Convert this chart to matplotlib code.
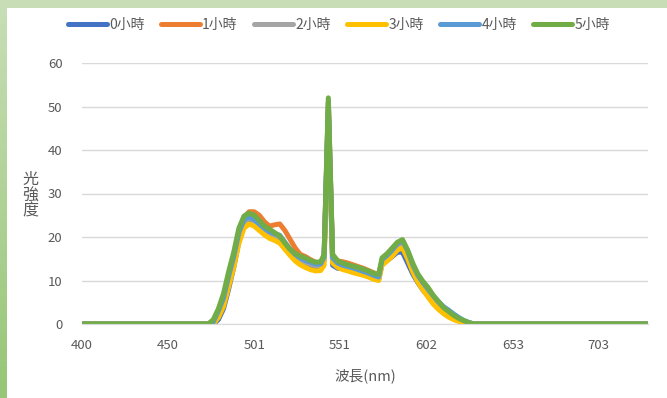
import matplotlib
matplotlib.use("Agg")
import matplotlib.pyplot as plt
import numpy as np
from matplotlib.lines import Line2D
from matplotlib.patches import Rectangle
from matplotlib.colors import LinearSegmentedColormap

plt.rcParams['font.family'] = ['Noto Sans CJK TC', 'DejaVu Sans']

# Wavelength grid (nm)
wavelength = [400, 474, 477, 480, 483, 486, 489, 492, 495, 498, 501, 504, 507, 510,
              513, 516, 519, 522, 525, 528, 531, 534, 537, 540, 542, 544.5, 547, 550,
              553, 556, 559, 562, 565, 568, 571, 574, 576, 579, 582, 585, 588, 591,
              594, 597, 600, 603, 606, 609, 612, 615, 618, 621, 624, 627, 630, 732]

series_labels = ['0小時', '1小時', '2小時', '3小時', '4小時', '5小時']
series_colors = ['#4472C4', '#ED7D31', '#A5A5A5', '#FFC000', '#5B9BD5', '#70AD47']

hour0 = [0, 0, 0, 1, 3.5, 8, 13, 19, 22.8, 24, 23.8, 22.8, 21.8, 20.5,
         20.2, 19.6, 18, 16.5, 15.2, 14.4, 13.9, 13.5, 13.1, 13.1, 14.6, 49, 13.5, 12.8,
         12.8, 12.6, 12.2, 11.9, 11.5, 11, 10.5, 10.2, 13.8, 14.6, 15.5, 16.5, 16.5, 14,
         11.5, 9.5, 7.8, 6.5, 5.2, 4, 3, 2.3, 1.7, 1.2, 0.7, 0.3, 0, 0]
hour1 = [0, 0, 0, 2, 5.5, 10.5, 15.5, 21, 24.5, 25.8, 25.8, 25, 23.5, 22.5,
         22.8, 23, 21.5, 19.5, 17.5, 16, 15.5, 14.8, 14.2, 14, 15.5, 51, 15.8, 14.5,
         14.3, 14, 13.6, 13.2, 12.8, 12.3, 11.8, 11.3, 14.5, 15.8, 17, 18.3, 19, 16.5,
         13.5, 11, 9.2, 7.8, 6, 4.8, 3.4, 2.4, 1.6, 1, 0.5, 0.2, 0, 0]
hour2 = [0, 0, 0.5, 2.5, 5.5, 10, 14.5, 20, 23.5, 24.3, 23.8, 22.8, 21.8, 20.8,
         20.3, 19.8, 18.2, 16.8, 15.6, 14.8, 14.2, 13.8, 13.4, 13.3, 15, 50, 15, 13.8,
         13.3, 12.9, 12.5, 12.2, 11.8, 11.3, 10.8, 10.5, 14, 15, 16.2, 17.8, 18.5, 16,
         13, 10.5, 8.8, 7.4, 5.8, 4.4, 3.2, 2.3, 1.5, 0.9, 0.5, 0.2, 0, 0]
hour3 = [0, 0, 0, 1.5, 4, 8.5, 13, 18.5, 22, 23, 22.5, 21.5, 20.5, 19.7,
         19.2, 18.6, 17.2, 15.8, 14.5, 13.6, 13, 12.5, 12.2, 12.3, 13.5, 48, 14, 13,
         12.5, 12.2, 11.8, 11.5, 11.2, 10.8, 10.3, 10, 13.5, 14.5, 15.6, 17, 17.5, 15,
         12, 9.6, 7.8, 6.2, 4.6, 3.4, 2.4, 1.6, 1, 0.6, 0.3, 0.1, 0, 0]
hour4 = [0, 0, 0.5, 3, 6, 11, 15.5, 21, 24, 24.6, 24, 23, 22, 21.2,
         20.8, 20.4, 18.8, 17.2, 16, 15.2, 14.6, 14.2, 13.8, 13.8, 15.4, 51, 15.2, 14,
         13.5, 13.2, 12.9, 12.5, 12.1, 11.7, 11.2, 10.8, 14.8, 15.8, 17, 18.5, 19.2, 16.8,
         13.6, 11.2, 9.5, 8, 6.5, 5.2, 4, 3.2, 2.3, 1.5, 0.8, 0.3, 0, 0]
hour5 = [0, 0, 1, 3.5, 7, 12, 16.5, 22, 24.8, 25.5, 25, 23.8, 22.5, 21.8,
         21, 20.2, 18.6, 17.2, 16.2, 15.6, 15.2, 14.6, 14.2, 14.3, 16, 52, 16, 14.5,
         14, 13.6, 13.3, 13, 12.6, 12.2, 11.6, 11.4, 15.2, 16.2, 17.5, 18.8, 19.4, 17,
         14, 11.5, 9.8, 8.4, 6.6, 5.2, 3.8, 2.9, 2, 1.3, 0.8, 0.3, 0, 0]
series_values = [hour0, hour1, hour2, hour3, hour4, hour5]

x_ticks = [400, 450, 501, 551, 602, 653, 703]
y_ticks = [0, 10, 20, 30, 40, 50, 60]

W, H = 667, 398
fig = plt.figure(figsize=(W / 100, H / 100), dpi=100)
fig.patch.set_facecolor('white')

# Green slide frame along the top and left edges
frame_ax = fig.add_axes([0, 0, 1, 1], zorder=-10)
frame_ax.axis('off')
frame_ax.add_patch(Rectangle((0, 0), W, 8, facecolor='#C8DDB5', edgecolor='none'))
grad = np.linspace(0, 1, 256).reshape(-1, 1)
cmap = LinearSegmentedColormap.from_list('g', ['#C9DEB7', '#96C676'])
frame_ax.imshow(grad, extent=(0, 7, H, 0), cmap=cmap, aspect='auto')
frame_ax.set_xlim(0, W)
frame_ax.set_ylim(H, 0)

ax = fig.add_axes([82 / W, 74 / H, (648 - 82) / W, (324 - 63) / H])
ax.patch.set_alpha(0)

for vals, lab, col in zip(series_values, series_labels, series_colors):
    ax.plot(wavelength, vals, color=col, lw=3.6, label=lab,
            solid_joinstyle='round', solid_capstyle='round')

ax.set_xlim(400, 732)
ax.set_ylim(0, 60)
ax.set_xticks(x_ticks)
ax.set_xticklabels([str(t) for t in x_ticks])
ax.set_yticks(y_ticks)
ax.grid(axis='y', color='#D9D9D9', lw=1.0)
ax.set_axisbelow(True)
for s in ['top', 'right', 'left']:
    ax.spines[s].set_visible(False)
ax.spines['bottom'].set_color('#D9D9D9')
ax.tick_params(length=0, labelsize=9.5, colors='#595959')
ax.tick_params(axis='x', pad=11)
ax.tick_params(axis='y', pad=14)

fig.text(365 / W, 1 - 376 / H, '波長(nm)', ha='center', va='center',
         fontsize=10.5, color='#595959')
fig.text(30 / W, 1 - 195 / H, '光\n強\n度', ha='center', va='center',
         fontsize=11.5, color='#595959', linespacing=0.9)

handles = [Line2D([], [], color=c, lw=3.6, solid_capstyle='round') for c in series_colors]
fig.legend(handles, series_labels, loc='center', bbox_to_anchor=(339 / W, 1 - 25 / H),
           ncol=6, frameon=False, fontsize=10, handlelength=2.8, handletextpad=0.15,
           columnspacing=1.2, labelcolor='#595959')

fig.savefig('out.png', dpi=100, facecolor=fig.get_facecolor())
